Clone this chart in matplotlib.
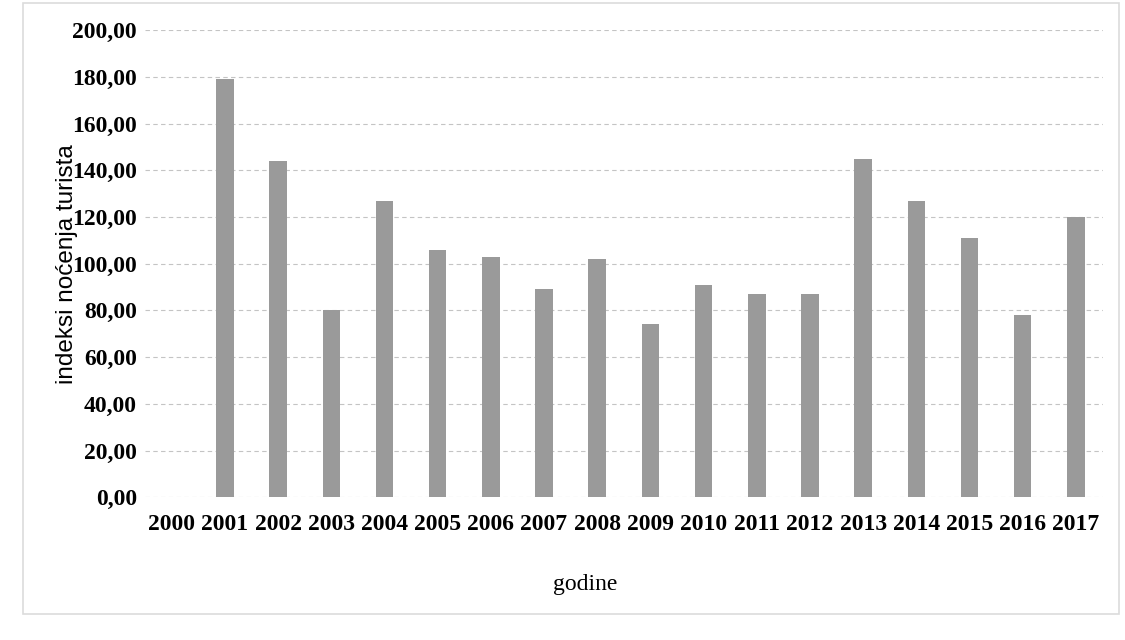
import matplotlib.pyplot as plt
from matplotlib.ticker import FuncFormatter
from matplotlib.patches import Rectangle

# data
godine = ['2000', '2001', '2002', '2003', '2004', '2005', '2006', '2007', '2008',
          '2009', '2010', '2011', '2012', '2013', '2014', '2015', '2016', '2017']
indeksi = [0, 179, 144, 80, 127, 106, 103, 89, 102,
           74, 91, 87, 87, 145, 127, 111, 78, 120]
y_ticks = [0, 20, 40, 60, 80, 100, 120, 140, 160, 180, 200]

fig = plt.figure(figsize=(11.25, 6.4), dpi=100)
ax = fig.add_axes([0.129, 0.223, 0.851, 0.73])

x = range(len(godine))
ax.bar(x, indeksi, width=0.33, color='#9a9a9a', zorder=3)

ax.set_xlim(-0.5, len(godine) - 0.5)
ax.set_ylim(0, 200)
ax.set_yticks(y_ticks)
ax.yaxis.set_major_formatter(FuncFormatter(lambda v, p: f'{v:.2f}'.replace('.', ',')))
ax.set_xticks(list(x))
ax.set_xticklabels(godine)

# tick labels in a Times-like serif face
for lbl in ax.get_yticklabels() + ax.get_xticklabels():
    lbl.set_family('Liberation Serif')
    lbl.set_fontsize(17)
    lbl.set_fontweight('bold')
ax.tick_params(length=0, pad=6)
ax.tick_params(axis='x', pad=12)

ax.grid(axis='y', color='#c4c4c4', linestyle=(0, (4, 3)), linewidth=0.8, zorder=0)
for s in ax.spines.values():
    s.set_visible(False)

ax.set_ylabel('indeksi noćenja turista', family='Liberation Sans', fontsize=17.5)
ax.yaxis.set_label_coords(-0.07, 0.5)
ax.set_xlabel('godine', family='Liberation Serif', fontsize=17)
ax.xaxis.set_label_coords(0.46, -0.165)

# faint chart-area border
fig.patches.append(Rectangle((0.02, 0.04), 0.975, 0.955, transform=fig.transFigure,
                             fill=False, edgecolor='#dcdcdc', linewidth=1.2))

fig.savefig('out.png', dpi=100, facecolor='white')
